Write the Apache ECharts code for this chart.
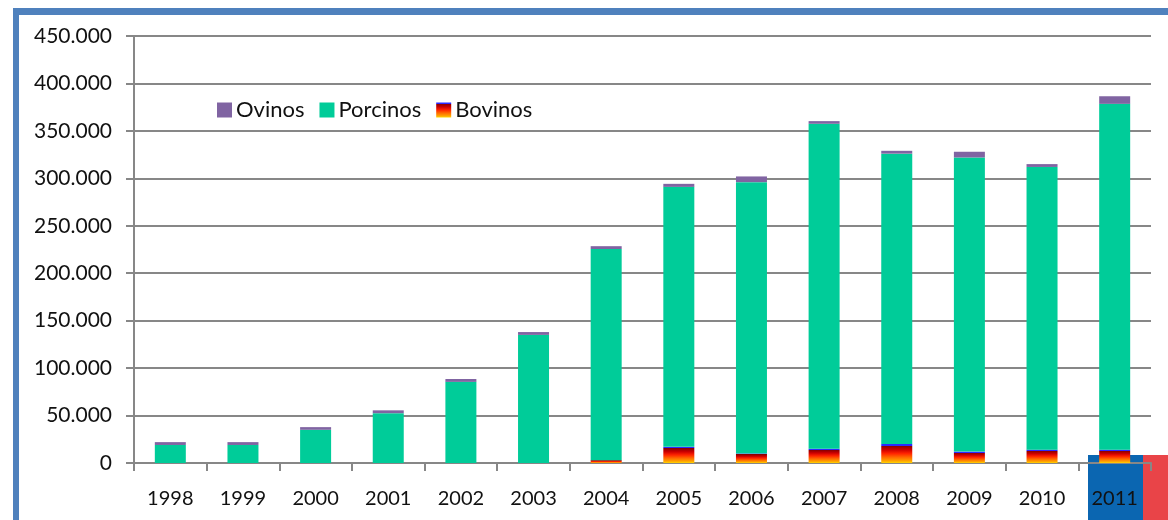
<!DOCTYPE html>
<html>
<head>
<meta charset="utf-8">
<script src="https://cdn.jsdelivr.net/npm/echarts@6/dist/echarts.min.js"></script>
<style>
  html, body { margin: 0; padding: 0; background: #fff; }
  #chart1 { width: 1168px; height: 520px; }
</style>
</head>
<body>
<div id="chart1"></div>
<script>
// data (units: heads)
var years = ['1998', '1999', '2000', '2001', '2002', '2003', '2004', '2005', '2006', '2007', '2008', '2009', '2010', '2011'];
var bovinos  = [0, 0, 0, 0, 0, 0, 3000, 17000, 10000, 15000, 20000, 12000, 14000, 14000];
var porcinos = [19000, 19000, 35000, 52500, 85500, 135000, 222500, 274000, 286000, 342500, 306000, 310000, 298000, 364500];
var ovinos   = [3000, 3000, 2800, 3000, 3000, 3000, 3000, 3200, 6000, 2800, 3000, 6000, 3000, 8000];
var yTicks = [0, 50000, 100000, 150000, 200000, 250000, 300000, 350000, 400000, 450000];

var chart = echarts.init(document.getElementById('chart1'));

// bovinos fill: excel-like gradient, dark red on top to yellow at the bottom
var bovFill = new echarts.graphic.LinearGradient(0, 0, 0, 1, [
  { offset: 0, color: '#2a2aff' },
  { offset: 0.08, color: '#2a2aff' },
  { offset: 0.1, color: '#8a0000' },
  { offset: 0.3, color: '#cc0000' },
  { offset: 0.5, color: '#ff2400' },
  { offset: 0.7, color: '#ff6a00' },
  { offset: 0.88, color: '#ffa000' },
  { offset: 1, color: '#ffd400' }
]);

var gray = '#878787';
var font = 'Lato';

chart.setOption({
  animation: false,
  textStyle: { fontFamily: font },
  grid: { left: 134, right: 17, top: 36, bottom: 57 },
  graphic: [
    // frame
    { type: 'rect', z: -10, shape: { x: 13, y: 8, width: 1155, height: 7 }, style: { fill: '#4f81bd' } },
    { type: 'rect', z: -10, shape: { x: 13, y: 8, width: 6, height: 512 }, style: { fill: '#4f81bd' } },
    // selection blocks bottom right
    { type: 'rect', z: -10, shape: { x: 1088, y: 455, width: 55, height: 65 }, style: { fill: '#0b66b1' } },
    { type: 'rect', z: -10, shape: { x: 1143, y: 455, width: 25, height: 65 }, style: { fill: '#e94448' } }
  ],
  legend: {
    data: ['Ovinos', 'Porcinos', 'Bovinos'],
    left: 212,
    top: 94,
    itemWidth: 15,
    itemHeight: 15,
    itemGap: 15,
    icon: 'rect',
    textStyle: { fontFamily: font, fontSize: 22, color: '#111', padding: [0, 0, 0, -1] }
  },
  xAxis: {
    type: 'category',
    data: years,
    axisLine: { lineStyle: { color: gray, width: 2 } },
    axisTick: { show: true, length: 8, lineStyle: { color: gray, width: 2 } },
    axisLabel: { fontFamily: font, fontSize: 20, color: '#111', margin: 26 }
  },
  yAxis: {
    type: 'value',
    min: yTicks[0],
    max: yTicks[yTicks.length - 1],
    interval: yTicks[1] - yTicks[0],
    axisLine: { show: true, lineStyle: { color: gray, width: 2 } },
    axisTick: { show: true, inside: false, length: 8, lineStyle: { color: gray, width: 2 } },
    splitLine: { lineStyle: { color: gray, width: 2 } },
    axisLabel: {
      fontFamily: font, fontSize: 21, color: '#111', margin: 22,
      formatter: function (v) {
        return v === 0 ? '0' : String(v).replace(/\B(?=(\d{3})+(?!\d))/g, '.');
      }
    }
  },
  series: [
    { name: 'Bovinos', type: 'bar', stack: 'total', barWidth: 31, data: bovinos, itemStyle: { color: bovFill } },
    { name: 'Porcinos', type: 'bar', stack: 'total', barWidth: 31, data: porcinos, itemStyle: { color: '#00cc99' } },
    { name: 'Ovinos', type: 'bar', stack: 'total', barWidth: 31, data: ovinos, itemStyle: { color: '#8064a2' } }
  ]
});
</script>
</body>
</html>
